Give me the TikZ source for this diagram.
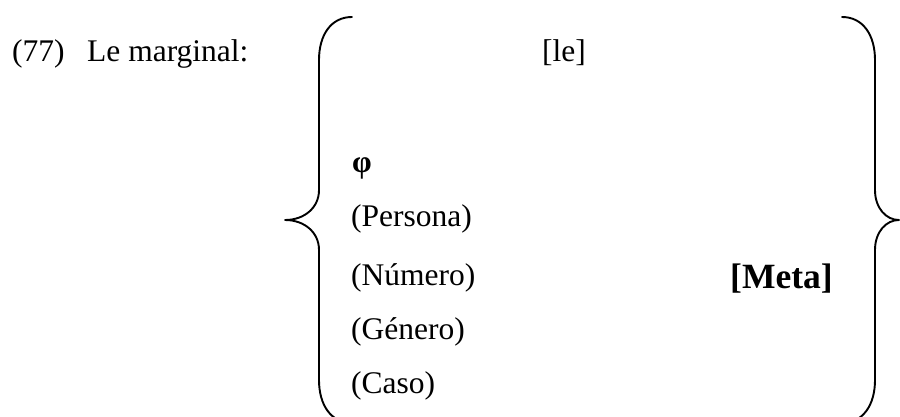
\documentclass[tikz,border=0pt]{standalone}
\usepackage{fontspec}
\setmainfont{Liberation Serif}
\begin{document}
\begin{tikzpicture}[x=1pt,y=-1pt,
  txt/.style={anchor=base west,inner sep=0pt,font=\fontsize{31.5}{36}\selectfont},
  big/.style={anchor=base west,inner sep=0pt,font=\fontsize{35.5}{40}\selectfont\bfseries},
  brace/.style={line width=1.9pt,line cap=round,line join=round}]
\useasboundingbox (0,0) rectangle (900,417);
% left label
\node[txt] (num) at (12,62) {(77)};
\node[txt] (lab) at (87,62) {Le marginal:};
% contents
\node[txt] (le) at (542,62) {[le]};
\node[txt,font=\fontsize{31.5}{36}\selectfont\bfseries] (phi) at (352,172) {φ};
\node[txt] (per) at (351,226) {(Persona)};
\node[txt] (numero) at (351,285) {(Número)};
\node[txt] (gen) at (351,339) {(Género)};
\node[txt] (caso) at (351,393) {(Caso)};
\node[big] (meta) at (730,288) {[Meta]};
% left brace
\draw[brace] (352,17) .. controls (331,17) and (319,35) .. (319,60)
  -- (319,190) .. controls (319,208) and (304,220) .. (285,220)
  .. controls (304,220) and (319,232) .. (319,250)
  -- (319,380) .. controls (319,405) and (331,423) .. (352,423);
% right brace
\draw[brace] (842,17) .. controls (863,17) and (875,35) .. (875,60)
  -- (875,190) .. controls (875,208) and (886,220) .. (899,220)
  .. controls (886,220) and (875,232) .. (875,250)
  -- (875,380) .. controls (875,405) and (863,423) .. (842,423);
\end{tikzpicture}
\end{document}
